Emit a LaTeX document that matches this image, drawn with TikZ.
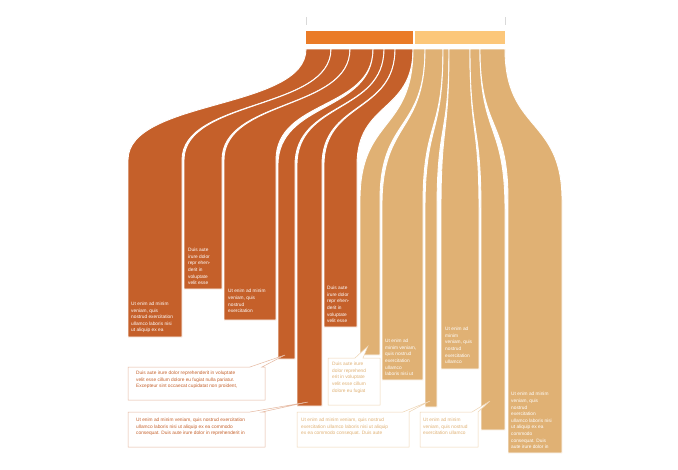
\documentclass[tikz,border=0pt]{standalone}
\usepackage{fontspec}
\setmainfont{Liberation Sans}
\usetikzlibrary{calc}
\definecolor{rust}{HTML}{C5602A}
\definecolor{rustmid}{HTML}{EA7B27}
\definecolor{sand}{HTML}{E0B174}
\definecolor{sandmid}{HTML}{FCC77A}

% ribbon: colour, top left, top right, bottom left, bottom right, straight from, bottom
\newcommand\ribbon[7]{%
  \shade[top color=#1, middle color=#1mid, bottom color=#1, draw=white, line width=0.9pt]
    (#2,49) .. controls (#2,{49+(#6-49)*0.55}) and (#4,{49+(#6-49)*0.45}) .. (#4,#6)
    -- (#4,#7) -- (#5,#7) -- (#5,#6)
    .. controls (#5,{49+(#6-49)*0.45}) and (#3,{49+(#6-49)*0.55}) .. (#3,49) -- cycle;}

\tikzset{
  intext/.style={font=\fontsize{4.8}{6.6}\selectfont, text=white, align=left, anchor=south west, inner sep=0pt},
  calltext/.style={font=\fontsize{4.8}{6.6}\selectfont, align=left, anchor=north west, inner sep=0pt},
  rustcall/.style={draw=rust!45, fill=white, line width=0.5pt},
  sandcall/.style={draw=sand!55, fill=white, line width=0.5pt},
}

\begin{document}
\begin{tikzpicture}[x=1pt, y=-1pt]
\useasboundingbox (0,0) rectangle (678,469);

% top bars and ticks
\draw[gray!30, line width=0.4pt] (306,17) -- (306,25) (505,17) -- (505,25);
\fill[rustmid] (306,31) rectangle (413,44);
\fill[sandmid] (415,31) rectangle (505,44);

% dark streams
\ribbon{rust}{306}{331}{128}{182}{160}{337}
\ribbon{rust}{331}{350}{184}{222}{160}{289}
\ribbon{rust}{350}{373}{224}{276}{160}{320}
\ribbon{rust}{373}{384}{278}{295}{165}{359}
\ribbon{rust}{384}{395}{297}{322}{165}{406}
\ribbon{rust}{395}{413}{324}{357}{165}{327}

% light streams
\ribbon{sand}{413}{425}{360}{380}{200}{355}
\ribbon{sand}{425}{443}{382}{423}{205}{380}
\ribbon{sand}{443}{449}{425}{437}{210}{407}
\ribbon{sand}{449}{470}{441}{479}{210}{369}
\ribbon{sand}{470}{480}{481}{505}{210}{430}
\ribbon{sand}{480}{505}{508}{562}{200}{453}

% labels inside the columns
\node[intext] (t1) at (131,333) {Ut enim ad minim\\veniam, quis\\nostrud exercitation\\ullamco laboris nisi\\ut aliquip ex ea};
\node[intext] (t2) at (188,285) {Duis aute\\irure dolor\\repr ehen-\\derit in\\voluptate\\velit esse};
\node[intext] (t3) at (228,313) {Ut enim ad minim\\veniam, quis\\nostrud\\exercitation};
\node[intext] (t6) at (327,323) {Duis aute\\irure dolor\\repr ehen-\\derit in\\voluptate\\velit esse};
\node[intext] (t8) at (385,376) {Ut enim ad\\minim veniam,\\quis nostrud\\exercitation\\ullamco\\laboris nisi ut};
\node[intext] (t10) at (445,364) {Ut enim ad\\minim\\veniam, quis\\nostrud\\exercitation\\ullamco};
\node[intext] (t12) at (511,449) {Ut enim ad minim\\veniam, quis\\nostrud\\exercitation\\ullamco laboris nisi\\ut aliquip ex ea\\commodo\\consequat. Duis\\aute irure dolor in};

% callouts
\draw[rustcall] (128,367) -- (250,367) -- (285,355) -- (262,367) -- (265,367)
  -- (265,400) -- (128,400) -- cycle;
\node[calltext, text=rust] (c4) at (136,371) {Duis aute irure dolor reprehenderit in voluptate\\velit esse cillum dolore eu fugiat nulla pariatur.\\Excepteur sint occaecat cupidatat non proident,};
\draw[rustcall] (128,412) -- (250,412) -- (308,402) -- (262,412) -- (265,412)
  -- (265,447) -- (128,447) -- cycle;
\node[calltext, text=rust] (c5) at (136,418) {Ut enim ad minim veniam, quis nostrud exercitation\\ullamco laboris nisi ut aliquip ex ea commodo\\consequat. Duis aute irure dolor in reprehenderit in};
\draw[sandcall] (328,358) -- (355,358) -- (368,346) -- (363,358) -- (380,358)
  -- (380,405) -- (328,405) -- cycle;
\node[calltext, text=sand] (c7) at (332,362) {Duis aute irure\\dolor reprehend\\erit in voluptate\\velit esse cillum\\dolore eu fugiat};
\draw[sandcall] (297,412) -- (403,412) -- (430,401) -- (409,412) -- (409,447)
  -- (297,447) -- cycle;
\node[calltext, text=sand] (c9) at (301,418) {Ut enim ad minim veniam, quis nostrud\\exercitation ullamco laboris nisi ut aliquip\\ex ea commodo consequat. Duis aute};
\draw[sandcall] (420,412) -- (472,412) -- (490,401) -- (478,412) -- (478,447)
  -- (420,447) -- cycle;
\node[calltext, text=sand] (c11) at (423,418) {Ut enim ad minim\\veniam, quis nostrud\\exercitation ullamco};

\end{tikzpicture}
\end{document}
